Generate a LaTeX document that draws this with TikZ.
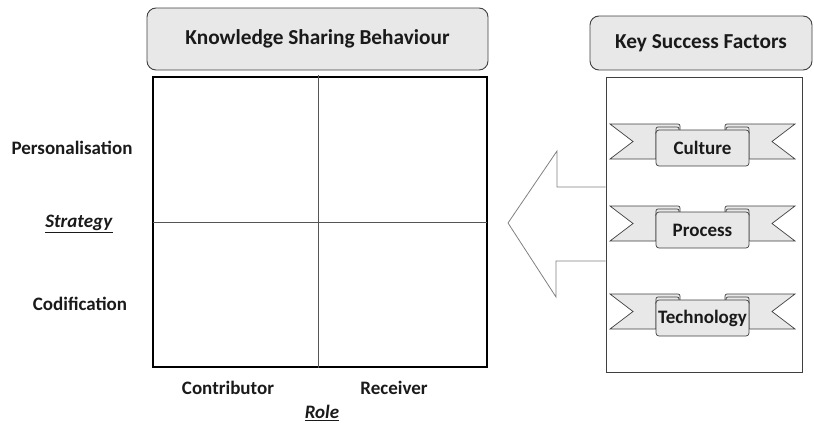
\documentclass[tikz,border=0pt]{standalone}
\usepackage{fontspec}
\setmainfont{Carlito}
\definecolor{boxfill}{HTML}{E8E8E8}
\definecolor{boxline}{HTML}{404040}
\definecolor{txt}{HTML}{1A1A1A}
\definecolor{arrline}{HTML}{808080}
\definecolor{divline}{HTML}{555555}
\begin{document}
\begin{tikzpicture}[x=1pt,y=-1pt,
  lbl/.style={font=\fontsize{19}{22}\selectfont\bfseries, text=txt, inner sep=0pt},
  hdr/.style={draw=boxline, fill=boxfill, rounded corners=9pt, line width=0.9pt, lbl, font=\fontsize{21.3}{24}\selectfont\bfseries},
  rib/.style={draw=boxline, fill=boxfill, line width=0.7pt},
  pics/ribbon/.style={code={
    \path[rib] (0,0) -- (68,0) to[out=0,in=90] (70,2) -- (70,8) -- (46,8) -- (46,35) -- (0,35) -- (23,17.5) -- cycle;
    \begin{scope}[shift={(185,0)}, xscale=-1]
      \path[rib] (0,0) -- (68,0) to[out=0,in=90] (70,2) -- (70,8) -- (46,8) -- (46,35) -- (0,35) -- (23,17.5) -- cycle;
      \path[rib, rounded corners=2pt] (46,10) -- (46,3) -- (69,3) -- (69,10);
    \end{scope}
    \path[rib, rounded corners=2pt] (46,10) -- (46,3) -- (69,3) -- (69,10);
    \path[rib, rounded corners=3pt] (46,6) rectangle (139,42);
    \node[lbl] (-t) at (92.5,24) {#1};
  }}
]
\useasboundingbox (0,0) rectangle (814,423);

% headers
\node[hdr, minimum width=341pt, minimum height=62pt] (ksb) at (317.5,39) {Knowledge Sharing Behaviour};
\node[hdr, minimum width=222pt, minimum height=54pt] (ksf) at (701,43) {Key Success Factors};

% matrix
\node[draw=black, line width=2.5pt, minimum width=334pt, minimum height=290pt, inner sep=0pt] (grid) at (320,222) {};
\coordinate (vt) at (318,75);
\coordinate (vb) at (318,368);
\coordinate (hl) at (153,222);
\coordinate (hr) at (487,222);
\draw[divline, line width=0.8pt] (vt) -- (vb);
\draw[divline, line width=0.8pt] (hl) -- (hr);

% factors box
\node[draw=boxline, line width=0.8pt, minimum width=196pt, minimum height=295pt, inner sep=0pt] (fbox) at (704,224.5) {};

% arrow
\draw[arrline, line width=0.8pt, line join=miter]
  (fbox.west |- 0,187) -- (557,187) -- (557,151) -- (508,223) -- (556,297) -- (556,261) -- (fbox.west |- 0,261);

% ribbons
\pic (cul) at (610,124) {ribbon=Culture};
\pic (pro) at (610,206) {ribbon=Process};
\pic (tec) at (610,294) {ribbon=Technology};

% axis labels
\node[lbl] (pers) at (72,148) {Personalisation};
\node[lbl] (strat) at (79,224) {\underline{\textit{Strategy}}};
\node[lbl] (cod) at (80,304) {Codification};
\node[lbl] (contr) at (228,388) {Contributor};
\node[lbl] (rec) at (394,388) {Receiver};
\node[lbl] (role) at (322,413) {\underline{\textit{Role}}};
\end{tikzpicture}
\end{document}
